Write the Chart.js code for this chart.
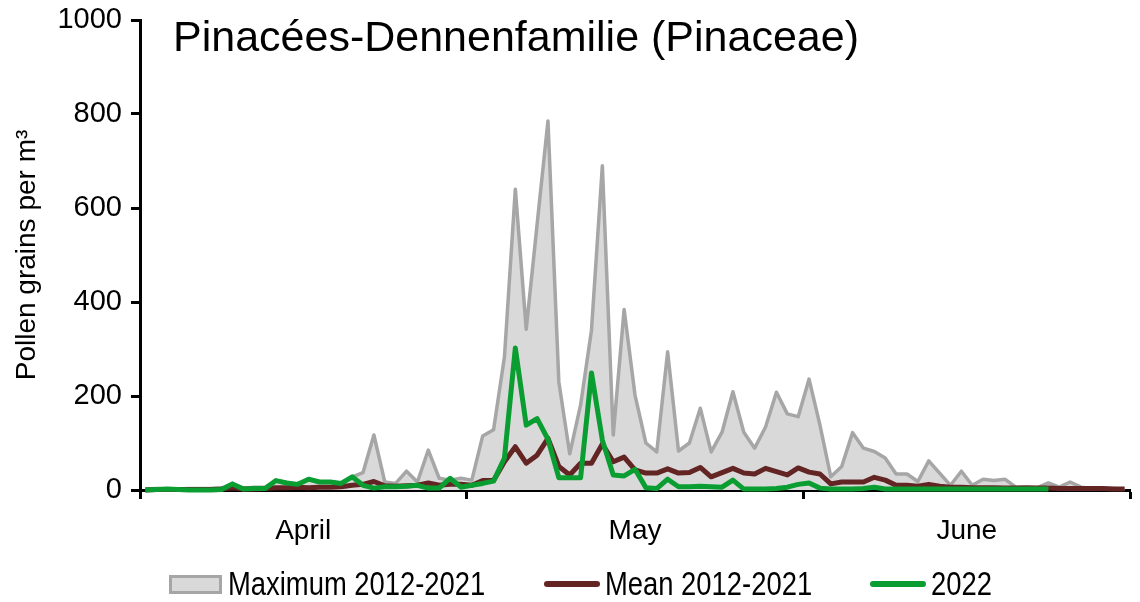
<!DOCTYPE html>
<html>
<head>
<meta charset="utf-8">
<script src="https://cdn.jsdelivr.net/npm/chart.js@4.4.1/dist/chart.umd.min.js"></script>
<style>
  html, body { margin: 0; padding: 0; background: #fff; }
  #wrap { position: relative; width: 1140px; height: 602px; overflow: hidden; }
  #chart { position: absolute; left: 0; top: 0; }
  #title { position: absolute; left: 173px; top: 15px; font-family: 'Liberation Sans', Arial, sans-serif; font-size: 43px; line-height: 43px; color: #000; white-space: nowrap; }
  .item { position: absolute; top: 566px; height: 36px; display: flex; align-items: center; white-space: nowrap;
          font-family: 'Liberation Sans Narrow', 'Arial Narrow', 'Liberation Sans', sans-serif; font-size: 33px; color: #000; }
  .item .txt { display: inline-block; transform: scaleX(0.83); transform-origin: left center; }
  .box { width: 53px; height: 19px; box-sizing: border-box; background: #d9d9d9; border: 3px solid #a6a6a6; margin-right: 6px; }
  .line { width: 56px; height: 6px; margin-right: 5px; border-radius: 3px; }
</style>
</head>
<body>
<div id="wrap">
  <canvas id="chart" width="1140" height="602"></canvas>
  <div id="title">Pinacées-Dennenfamilie (Pinaceae)</div>
  <div class="item" style="left:169px"><span class="box"></span><span class="txt">Maximum 2012-2021</span></div>
  <div class="item" style="left:544px"><span class="line" style="background:#632523"></span><span class="txt">Mean 2012-2021</span></div>
  <div class="item" style="left:870px"><span class="line" style="background:#0a9e32"></span><span class="txt">2022</span></div>
</div>
<script>
// daily values, 1 April .. 30 June (91 days)
const maxValues = [
  2, 3, 2, 2, 3, 3, 3, 4, 13, 4,
  6, 6, 20, 15, 12, 23, 17, 17, 14, 28,
  37, 117, 17, 14, 40, 17, 85, 25, 21, 25,
  21, 115, 128, 283, 640, 342, 565, 785, 230, 77,
  181, 340, 690, 117, 384, 202, 100, 81, 294, 83,
  100, 174, 81, 123, 209, 123, 89, 134, 208, 162,
  156, 236, 138, 28, 50, 122, 89, 82, 68, 34,
  34, 18, 62, 36, 10, 40, 10, 23, 20, 23,
  6, 5, 5, 15, 6, 17, 6, 4, 3, 3,
  2
];
const meanValues = [
  0, 1, 1, 1, 1, 1, 1, 2, 5, 2,
  2, 3, 5, 5, 6, 5, 6, 6, 7, 10,
  12, 18, 9, 8, 9, 10, 15, 10, 12, 12,
  10, 20, 20, 60, 92, 57, 74, 110, 50, 32,
  57, 57, 98, 60, 70, 43, 36, 36, 45, 36,
  37, 48, 28, 37, 46, 36, 34, 46, 39, 32,
  47, 38, 34, 13, 17, 17, 17, 27, 21, 10,
  10, 8, 12, 8, 6, 6, 5, 5, 5, 4,
  4, 5, 4, 4, 3, 3, 3, 3, 3, 2,
  2
];
const values2022 = [
  0, 1, 2, 1, 0, 0, 0, 1, 13, 2,
  3, 3, 20, 15, 12, 23, 17, 17, 14, 28,
  10, 4, 7, 7, 8, 10, 4, 4, 25, 6,
  10, 14, 19, 68, 302, 138, 152, 108, 26, 26,
  26, 249, 106, 32, 30, 44, 5, 3, 23, 7,
  7, 8, 7, 6, 21, 2, 2, 2, 3, 6,
  12, 15, 4, 2, 2, 2, 3, 6, 2, 2,
  2, 2, 2, 2, 2, 2, 2, 2, 2, 2,
  2, 2, 2, 2
];
const monthNames = ['April', 'May', 'June'];
const monthCenters = [15, 45.5, 76];
const monthBounds = [0, 30, 61, 91];

const fontFamily = "'Liberation Sans', Arial, sans-serif";

// each day sits in the middle of its slot on the date axis
const toPoints = arr => arr.map((v, i) => ({ x: i + 0.5, y: v }));

new Chart(document.getElementById('chart'), {
  type: 'line',
  data: {
    datasets: [
      {
        label: 'Maximum 2012-2021',
        data: toPoints(maxValues),
        borderColor: '#a6a6a6',
        backgroundColor: '#d9d9d9',
        borderWidth: 3.5,
        fill: 'origin',
        order: 3
      },
      {
        label: 'Mean 2012-2021',
        data: toPoints(meanValues),
        borderColor: '#632523',
        borderWidth: 5,
        fill: false,
        order: 2
      },
      {
        label: '2022',
        data: toPoints(values2022),
        borderColor: '#0a9e32',
        borderWidth: 5,
        fill: false,
        order: 1
      }
    ]
  },
  options: {
    responsive: false,
    animation: false,
    clip: false,
    elements: {
      point: { radius: 0 },
      line: { tension: 0, borderJoinStyle: 'round' }
    },
    layout: { padding: { left: 0, right: 10, top: 20, bottom: 0 } },
    plugins: {
      legend: { display: false },
      tooltip: { enabled: false }
    },
    scales: {
      x: {
        type: 'linear',
        min: 0,
        max: 91,
        afterBuildTicks: axis => {
          axis.ticks = monthBounds.concat(monthCenters).sort((a, b) => a - b).map(v => ({ value: v }));
        },
        afterFit: s => {
          s.height = 112;
          s.paddingLeft = 0;
          s.paddingRight = 0;
        },
        ticks: {
          autoSkip: false,
          maxRotation: 0,
          color: '#000',
          font: { family: fontFamily, size: 28 },
          padding: 15,
          callback: v => {
            const k = monthCenters.indexOf(v);
            return k >= 0 ? monthNames[k] : '';
          }
        },
        grid: {
          drawOnChartArea: false,
          tickLength: 9,
          tickWidth: 3,
          tickColor: ctx => monthBounds.includes(ctx.tick.value) ? '#000' : 'rgba(0,0,0,0)'
        },
        border: { color: '#000', width: 3 }
      },
      y: {
        min: 0,
        max: 1000,
        afterFit: s => {
          s.width = 140;
          s.paddingTop = 0;
          s.paddingBottom = 0;
        },
        ticks: {
          stepSize: 200,
          color: '#000',
          font: { family: fontFamily, size: 29 },
          padding: 9,
          callback: v => String(v)
        },
        grid: { drawOnChartArea: false, tickLength: 9, tickWidth: 3, tickColor: '#000' },
        border: { color: '#000', width: 3 },
        title: {
          display: true,
          text: 'Pollen grains per m³',
          color: '#000',
          font: { family: fontFamily, size: 28 },
          padding: { top: 10, bottom: 0 }
        }
      }
    }
  }
});
</script>
</body>
</html>
